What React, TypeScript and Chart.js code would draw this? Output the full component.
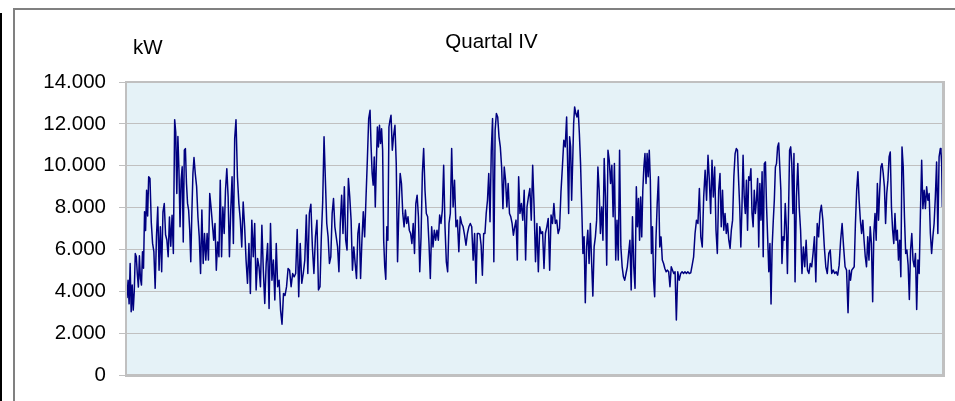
import { useEffect, useRef } from 'react';
import { Chart, registerables } from 'chart.js';

Chart.register(...registerables);

const chartTitle = 'Quartal IV';
const unitLabel = 'kW';
const yMin = 0;
const yMax = 14000;
const yStep = 2000;
const quarterDays = 92;

// Load readings (kW), grouped in stretches of the quarter; each stretch starts at the given day.
const oct1a = [3600, 3900, 3700, 4530, 3400, 5330, 3020, 4300, 3100, 4000, 5800, 5650, 4800, 4200, 5700, 4600, 4300, 5890, 5100, 7800, 6900, 8830, 7600];
const oct1b = [9470, 9390, 7300, 6300, 5900, 4140, 6600, 8030, 5010, 7080, 4930, 7800, 8190, 6700, 6450, 5650, 7550, 6150, 7630, 5810];
const oct2a = [12200, 11600, 8670, 11400, 9800, 7080, 9300, 9950, 6360, 10740, 10820, 9150, 8200, 7880, 6960, 5410, 7720, 9630];
const oct2b = [10390, 9600, 9000, 7550, 6600, 4850, 7880, 5330, 6760, 5490, 6760, 5490, 8670, 8000, 7240, 6440, 7240, 5010, 6360, 5650, 9310, 5650, 8030, 6760, 8830, 9860, 8510, 5650, 7870, 9470, 6280, 11300];
const oct3 = [12200, 9470, 8190, 7400, 6120, 8270, 7080, 5490, 4380, 6280, 3900, 7400, 5650, 7240, 4060, 5570, 5170, 4220, 7160, 5010, 3420, 5330, 6280, 3180, 7240, 4530, 5490, 3580, 6280, 4220, 4530, 3100];
const oct4 = [2430, 3900, 3800, 4220, 5090, 5010, 4220, 4850, 4690, 4850, 6950, 3740, 6280, 4380, 4850, 5490, 7640, 4850, 7720, 8160, 6120, 4850, 6600, 7400, 4060];

const nov1 = [4220, 6600, 8270, 11380, 9310, 7240, 6600, 5330, 5650, 7720, 8430, 7080, 6600, 6120, 4930, 7240, 8590, 6760, 8990, 6440, 5970, 9390, 8510, 7400, 5010, 6120, 5330, 4610, 6760, 7240, 4610, 6440, 7800, 6600, 8430, 10260, 12250];
const nov2 = [12650, 10900, 9630, 9070, 10420, 8030, 10100, 11850, 10900, 11930, 11060, 11770, 10740, 6440, 5170, 4570, 7080, 6440, 11850, 12170];
const nov3 = [12410, 10740, 11460, 11930, 10100, 5410, 7880, 9630, 9150, 7720, 7080, 7880, 7240, 7560, 6920, 6760, 6280, 7240, 5810, 8190, 8590, 7560, 4930, 6600, 9630];
const nov4 = [10820, 8830, 7720, 7560, 6280, 4610, 7080, 6120, 6920, 6440, 6920, 6440, 7640, 7240, 7870, 10020, 7080, 5410, 4930, 7240, 7720];
const nov5 = [10820, 8030, 9310, 7080, 7400, 5890, 7560, 7240, 7080, 6680, 6200, 6760, 7080, 7240, 7080, 5490, 6760];
const nov6 = [4380, 6760, 6760, 6730, 6200, 4770, 6760, 6760, 7720, 8350, 9630, 7320, 10740, 12250, 5410, 11690];
const nov7 = [12490, 12330, 11380, 10900, 9940, 7950, 9940, 9310, 8030, 9150, 7720, 7560, 7240, 6680, 7080, 7400, 5490, 9470];

const mid1 = [7720, 8190, 7400, 8830, 5490, 8030, 8510, 8910, 7400, 10020, 8030, 5410, 7240, 4930, 7080, 6760, 6840, 5090, 6760, 7080, 7480, 5010, 7640, 7240, 8190, 7240, 7400, 6760, 7000, 8750, 9940, 11220, 10900];
const mid2 = [12330, 10100, 7720, 11380, 10900, 8350, 10100, 12010];
const mid3 = [12810, 12490, 12330, 12650, 11530, 10100, 8030, 5810, 6600];
const mid4 = [3450, 6120, 6920, 5330, 7240, 5410, 3770, 6120, 6600, 7400, 9940, 8830, 6760, 8030, 6440, 10340, 8510, 5250];
const mid5 = [10740, 10260, 9150, 10020, 7560, 10100, 5490, 7400, 5490, 10740, 6120, 5170, 4690, 4530, 4850, 5170, 5810, 6440, 4060, 7560, 5170, 4140];
const mid6 = [8990, 7080, 8430, 6440, 8510, 6600, 8830, 9940, 10580, 9150, 10580, 9470, 10740, 9310, 5810, 7080, 4530];
const mid7 = [3740, 6440, 8190, 9470, 6120, 6600, 5490, 5330, 5090, 4930, 5010, 4930, 4220, 5170, 5010, 4850, 4930];
const mid8 = [2630, 4930, 4530, 4850, 4930, 4850, 4930, 4850, 4930, 4850, 4880, 5250, 5650, 6760, 7400, 7240, 8910, 6600, 6120, 8510, 9780, 8350];
const mid9 = [10500, 9310, 7720, 10260, 8510, 9940, 6920, 5810, 8830];

const dec1 = [9630, 7080, 8830, 6920, 7720, 6760, 7240, 6440, 6050, 6920, 7400, 9470, 10580];
const dec2 = [10820, 10740, 9310, 8030, 6120, 8030, 10500, 8510, 7720, 9310, 6920, 9470, 9310, 9860, 7720, 7080, 8830, 7720, 8350, 9390, 6120, 9150, 7400, 9710, 5650, 10100, 10180, 8030, 6520, 4930, 6280];
const dec3 = [3390, 6120, 7320, 8350, 9940, 10100, 10900];
const dec4 = [11090, 9940, 8830, 5330, 6600, 6440, 8190, 7080, 4850, 7720, 10740, 10900, 10100, 7720, 10580];
const dec5 = [4450, 8510, 10100, 8030, 6920, 4850, 6120, 5170, 6440, 5010, 4850, 5330, 5170, 5810, 6600, 4450, 7240, 6600, 7720];
const dec6 = [8110, 7400, 6120, 5170, 4850, 5810, 5970, 4850, 5010, 4850, 4930, 4770, 5250, 6440, 7240, 6120, 5170, 5010];
const dec7 = [2970, 5010, 4530, 5010, 5090, 5170, 7240, 8830, 9710, 8350, 7400, 6760, 7400, 6440, 5650, 5170, 6600, 5490, 7080, 6280];
const dec8 = [3500, 6760, 7720, 6440, 9150, 7400, 8830, 9940, 10100, 9630, 8990, 7240, 8670, 9310, 10420, 10660, 8030, 6920, 6280, 7720, 6440, 6920, 5490, 6440, 4690];
const dec9 = [10900, 9940, 7560, 5810, 5970, 5250, 3610, 5970, 6760, 5490, 5170, 5810];
const dec10 = [3130, 5490, 4850, 7720, 10260, 7950, 8830, 7950, 8990, 8350, 8670, 6760, 5810, 6600, 7240, 8510, 10180, 6760, 10420];
const dec11 = [10820, 10660, 10100, 8030];

const stretchStartDays = [
  0, 2.662, 5.586, 7.76, 12.484, 17.658,
  21.93, 27.56, 29.92, 33.59, 36.74, 39.48, 41.77,
  44.42, 49.67, 50.57, 51.77, 54.32, 57.51, 59.57, 62.01, 65.57,
  66.92, 68.76, 72.66, 73.52, 75.36, 78.32, 81.32, 84.09, 87.39, 89.04, 91.7,
];

const stretches = [
  oct1a, oct1b, oct2a, oct2b, oct3, oct4,
  nov1, nov2, nov3, nov4, nov5, nov6, nov7,
  mid1, mid2, mid3, mid4, mid5, mid6, mid7, mid8, mid9,
  dec1, dec2, dec3, dec4, dec5, dec6, dec7, dec8, dec9, dec10, dec11,
];

const FONT = '"Liberation Sans", Arial, Helvetica, sans-serif';

function formatThousands(v: number): string {
  return String(v).replace(/\B(?=(\d{3})+(?!\d))/g, '.');
}

const decorPlugin = {
  id: 'decor',
  beforeDraw(chart: any) {
    const { ctx, chartArea: a, width, height } = chart;
    ctx.save();
    ctx.fillStyle = '#ffffff';
    ctx.fillRect(0, 0, width, height);
    ctx.fillStyle = '#808080';
    ctx.fillRect(13, 8, width - 13, 2);
    ctx.fillRect(13, 8, 2, height - 8);
    ctx.fillStyle = '#000000';
    ctx.fillRect(0, 13, 2, height - 13);
    ctx.fillStyle = '#e5f2f7';
    ctx.fillRect(a.left, a.top, a.right - a.left, a.bottom - a.top);
    ctx.restore();
  },
  afterDraw(chart: any) {
    const { ctx, chartArea: a } = chart;
    ctx.save();
    ctx.fillStyle = '#c0c0c0';
    ctx.fillRect(a.left, a.top - 1, a.right - a.left + 2, 2);
    ctx.fillRect(a.left, a.top - 1, 2, a.bottom - a.top + 2);
    ctx.fillRect(a.right - 1, a.top - 1, 3, a.bottom - a.top + 3);
    ctx.fillRect(a.left, a.bottom - 1, a.right - a.left + 2, 3);
    ctx.fillStyle = '#000000';
    ctx.font = `20.5px ${FONT}`;
    ctx.textBaseline = 'alphabetic';
    ctx.textAlign = 'left';
    ctx.fillText(unitLabel, a.left + 8, 54);
    ctx.textAlign = 'center';
    ctx.fillText(chartTitle, 491.5, 48);
    ctx.restore();
  },
};

export default function App() {
  const ref = useRef<HTMLCanvasElement>(null);

  useEffect(() => {
    if (!ref.current) return;
    const points: { x: number; y: number }[] = [];
    stretches.forEach((vals, i) => {
      const s = stretchStartDays[i];
      const e = i + 1 < stretchStartDays.length ? stretchStartDays[i + 1] : quarterDays;
      vals.forEach((v, j) => {
        points.push({ x: s + ((e - s) * j) / vals.length, y: v });
      });
    });

    const chart = new Chart(ref.current, {
      type: 'line',
      data: {
        datasets: [
          {
            data: points,
            borderColor: '#000080',
            borderWidth: 1.5,
            pointRadius: 0,
            tension: 0,
            fill: false,
            borderJoinStyle: 'round',
          },
        ],
      },
      options: {
        animation: false,
        responsive: false,
        devicePixelRatio: 1,
        layout: { padding: { left: 0, top: 82, right: 12, bottom: 26 } },
        plugins: {
          legend: { display: false },
          tooltip: { enabled: false },
          title: { display: false },
        },
        scales: {
          x: {
            type: 'linear',
            min: 0,
            max: quarterDays,
            display: false,
          },
          y: {
            type: 'linear',
            min: yMin,
            max: yMax,
            afterFit: (scale: any) => {
              scale.width = 125;
            },
            ticks: {
              stepSize: yStep,
              color: '#000000',
              padding: 13,
              font: { family: FONT, size: 20.5 },
              callback: (v: any) => formatThousands(Number(v)),
            },
            grid: {
              color: '#c0c0c0',
              lineWidth: 1,
              tickLength: 6,
              drawTicks: true,
            },
            border: { display: false },
          },
        },
      },
      plugins: [decorPlugin],
    } as any);

    return () => chart.destroy();
  }, []);

  return (
    <div style={{ position: 'fixed', left: 0, top: 0, width: 955, height: 401 }}>
      <canvas ref={ref} width={955} height={401} style={{ display: 'block', width: 955, height: 401 }} />
    </div>
  );
}
